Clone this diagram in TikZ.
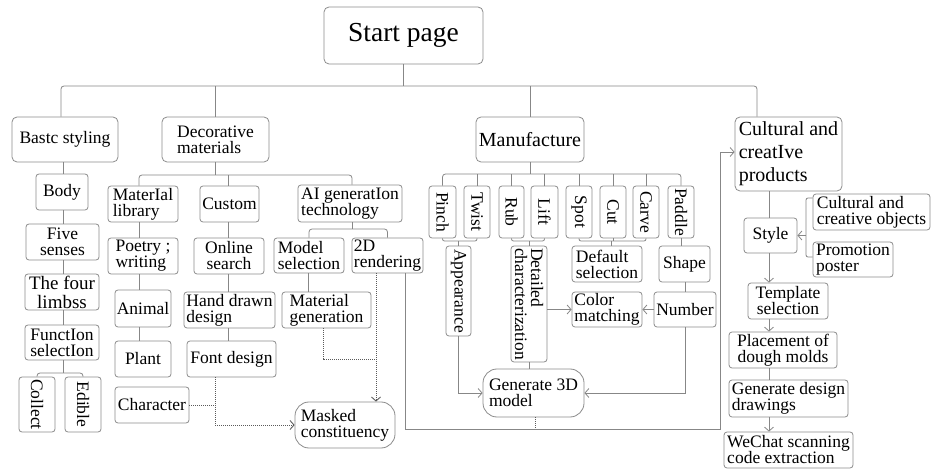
\documentclass[tikz,border=0pt]{standalone}
\usepackage{fontspec}
\setmainfont{Liberation Serif}
\usetikzlibrary{arrows.meta,calc}
\definecolor{boxc}{RGB}{140,140,140}
\definecolor{linec}{RGB}{135,135,135}
\definecolor{dotc}{RGB}{90,90,90}
\newcommand\fsN{\rmfamily\fontsize{17.5}{16}\selectfont}
\newcommand\fsL{\rmfamily\fontsize{20}{18}\selectfont}
\newcommand\fsF{\rmfamily\fontsize{19}{19}\selectfont}
\newcommand\fsC{\rmfamily\fontsize{20}{23}\selectfont}
\newcommand\fsS{\rmfamily\fontsize{27.5}{30}\selectfont}
\begin{document}
\begin{tikzpicture}[x=1pt,y=-1pt,
  box/.style={draw=boxc, rounded corners=3pt, line width=0.8pt, inner sep=1pt, font=\fsN, align=center},
  lbox/.style={box, align=left},
  vbox/.style={box, rotate=-90},
  rbox/.style={box, align=left, rounded corners=14pt},
  ln/.style={draw=linec, line width=0.8pt},
  dl/.style={draw=dotc, line width=0.9pt, dash pattern=on 1pt off 1pt},
  arr/.style={-{Straight Barb[length=4pt,width=9pt]}}]
\useasboundingbox (0,0) rectangle (932,470);
\fill[white] (0,0) rectangle (932,470);

% ---- level 0/1
\node[box, font=\fsS, rounded corners=5pt, minimum width=159, minimum height=57] (start) at (403.5,35.5) {Start page};
\node[box, rounded corners=5pt, minimum width=106, minimum height=45] (basic) at (65,139.5) {Bastc styling};
\node[lbox, rounded corners=5pt, minimum width=107, minimum height=45] (decor) at (215.5,139.5) {Decorative\\materials};
\node[box, font=\fsL, rounded corners=5pt, minimum width=108, minimum height=45] (manuf) at (530,139.5) {Manufacture};
\node[lbox, font=\fsC, rounded corners=5pt, minimum width=107, minimum height=74] (cult) at (788.5,154) {Cultural and\\creatIve\\products};

% ---- basic styling column
\node[box, minimum width=52, minimum height=36] (body) at (62,192) {Body};
\node[box, minimum width=73, minimum height=36] (five) at (62.5,242) {Five\\senses};
\node[box, font=\fsF, minimum width=74, minimum height=36] (four) at (62,292) {The four\\limbss};
\node[box, minimum width=74, minimum height=35] (func) at (62,342.5) {FunctIon\\selectIon};
\node[vbox, minimum width=55, minimum height=36] (collect) at (37,404.5) {Collect};
\node[vbox, minimum width=55, minimum height=36] (edible) at (83,404.5) {Edible};

% ---- decorative materials
\node[lbox, minimum width=70, minimum height=36] (matlib) at (143,204) {MaterIal\\library};
\node[lbox, minimum width=70, minimum height=36] (poetry) at (143,256) {Poetry ;\\writing};
\node[box, minimum width=56, minimum height=37] (animal) at (143,308.5) {Animal};
\node[box, minimum width=56, minimum height=36] (plant) at (143,359) {Plant};
\node[box, minimum width=74, minimum height=36] (char) at (152,405) {Character};
\node[box, minimum width=59, minimum height=36] (custom) at (229.5,204) {Custom};
\node[box, minimum width=70, minimum height=36] (online) at (229,256) {Online\\search};
\node[lbox, minimum width=91, minimum height=36] (hand) at (229.5,310) {Hand drawn\\design};
\node[box, minimum width=89, minimum height=36] (font) at (231.5,359) {Font design};
\node[lbox, minimum width=104, minimum height=37] (aigen) at (350,203.5) {AI generatIon\\technology};
\node[lbox, minimum width=70, minimum height=35] (model) at (309,255.5) {Model\\selection};
\node[lbox, minimum width=71, minimum height=35] (render) at (387.5,255.5) {2D\\rendering};
\node[lbox, minimum width=89, minimum height=36] (matgen) at (326.5,310) {Material\\generation};
\node[rbox, minimum width=100, minimum height=46] (masked) at (345,425) {Masked\\constituency};

% ---- manufacture
\node[vbox, minimum width=52, minimum height=27] (pinch) at (442.5,212) {Pinch};
\node[vbox, minimum width=52, minimum height=26] (twist) at (477,212) {Twist};
\node[vbox, minimum width=52, minimum height=25] (rub) at (511.5,212) {Rub};
\node[vbox, minimum width=52, minimum height=27] (lift) at (544.5,212) {Lift};
\node[vbox, minimum width=52, minimum height=26] (spot) at (579,212) {Spot};
\node[vbox, minimum width=52, minimum height=26] (cut) at (613,212) {Cut};
\node[vbox, minimum width=52, minimum height=26] (carve) at (646,212) {Carve};
\node[vbox, minimum width=52, minimum height=26] (paddle) at (681,212) {Paddle};
\node[vbox, minimum width=90, minimum height=25] (appear) at (458.5,291) {Appearance};
\node[vbox, align=left, minimum width=116, minimum height=36] (detail) at (529,304) {Detailed\\characterization};
\node[lbox, minimum width=70, minimum height=36] (default) at (607,264) {Default\\selection};
\node[lbox, minimum width=70, minimum height=35] (color) at (607,309.5) {Color\\matching};
\node[box, minimum width=51, minimum height=36] (shape) at (684.5,264) {Shape};
\node[box, minimum width=62, minimum height=35] (number) at (685,309.5) {Number};
\node[rbox, minimum width=101, minimum height=48] (gen3d) at (533.5,393) {Generate 3D\\model};

% ---- cultural
\node[box, minimum width=53, minimum height=35] (style) at (770.5,235.5) {Style};
\node[lbox, minimum width=117, minimum height=36] (objects) at (871.5,212) {Cultural and\\creative objects};
\node[lbox, minimum width=80, minimum height=35] (poster) at (853,259.5) {Promotion\\poster};
\node[box, minimum width=80, minimum height=36] (template) at (788,301) {Template\\selection};
\node[box, minimum width=108, minimum height=36] (place) at (783,350) {Placement of\\dough molds};
\node[lbox, minimum width=119, minimum height=37] (design) at (788.5,398.5) {Generate design\\drawings};
\node[lbox, minimum width=129, minimum height=36] (wechat) at (788.5,450) {WeChat scanning\\code extraction};

% ---- helper coordinates
\coordinate (tb) at (0,86);
\coordinate (xb) at (61,0);
\coordinate (xc) at (757,0);
\coordinate (xbs) at (63,0);
\coordinate (cb) at (0,373);
\coordinate (db) at (0,175);
\coordinate (xm) at (139,0);
\coordinate (xcu) at (228,0);
\coordinate (xai) at (352,0);
\coordinate (ab) at (0,229);
\coordinate (xmg) at (308,0);
\coordinate (dm) at (0,359);
\coordinate (x323) at (323,0);
\coordinate (x376) at (376,0);
\coordinate (x215) at (215,0);
\coordinate (x405) at (405,0);
\coordinate (by) at (0,429);
\coordinate (x720) at (720,0);
\coordinate (ay) at (0,152);
\coordinate (x535) at (535,0);
\coordinate (mb) at (0,174);
\coordinate (sb) at (0,241);
\coordinate (x611) at (611,0);
\coordinate (x769) at (769,0);
\coordinate (x806) at (806,0);
\coordinate (y198) at (0,198);
\coordinate (y257) at (0,257);

% ---- top bus
\draw[ln] (start.south) -- (start.south |- tb);
\draw[ln, rounded corners=3pt] (basic.north -| xb) -- (xb |- tb) -- (xc |- tb) -- (cult.north -| xc);
\draw[ln] (decor.north) -- (decor.north |- tb);
\draw[ln] (manuf.north) -- (manuf.north |- tb);

% ---- basic styling
\draw[ln] (basic.south -| xbs) -- (body.north -| xbs);
\draw[ln] (body.south -| xbs) -- (five.north -| xbs);
\draw[ln] (five.south -| xbs) -- (four.north -| xbs);
\draw[ln] (four.south -| xbs) -- (func.north -| xbs);
\draw[ln] (func.south -| xbs) -- (xbs |- cb);
\draw[ln, rounded corners=3pt] (collect.west) -- (collect.west |- cb) -- (edible.west |- cb) -- (edible.west);

% ---- decorative
\draw[ln] (decor.south) -- (decor.south |- db);
\draw[ln, rounded corners=3pt] (matlib.north -| xm) -- (xm |- db) -- (xai |- db) -- (aigen.north -| xai);
\draw[ln] (custom.north -| xcu) -- (xcu |- db);
\draw[ln] (matlib.south -| xm) -- (poetry.north -| xm);
\draw[ln] (poetry.south -| xm) -- (animal.north -| xm);
\draw[ln] (animal.south -| xm) -- (plant.north -| xm);
\draw[ln] (custom.south -| xcu) -- (online.north -| xcu);
\draw[ln] (online.south -| xcu) -- (hand.north -| xcu);
\draw[ln] (hand.south -| xcu) -- (font.north -| xcu);
\draw[ln] (aigen.south -| xai) -- (xai |- ab);
\draw[ln, rounded corners=3pt] (model.north) -- (model.north |- ab) -- (render.north |- ab) -- (render.north);
\draw[ln] (model.south -| xmg) -- (matgen.north -| xmg);
\draw[dl] (matgen.south -| x323) -- (x323 |- dm) -- (x376 |- dm);
\draw[dl, arr] (render.south -| x376) -- (masked.north -| x376);
\draw[dl, arr] (font.south -| x215) |- (masked.west);
\draw[dl] (char.east) -- (char.east -| x215);
\draw[ln, arr] (render.south -| x405) -- (x405 |- by) -- (x720 |- by) -- (x720 |- ay) -- (cult.west |- ay);

% ---- manufacture
\draw[ln] (manuf.south) -- (manuf.south |- mb);
\draw[ln, rounded corners=3pt] (pinch.west) -- (pinch.west |- mb) -- (paddle.west |- mb) -- (paddle.west);
\foreach \n in {twist,rub,lift,spot,cut,carve} \draw[ln] (\n.west) -- (\n.west |- mb);
\draw[ln, rounded corners=2pt] (pinch.east) -- (pinch.east |- sb) -- (twist.east |- sb) -- (twist.east);
\draw[ln] (appear.west) -- (appear.west |- sb);
\draw[ln, rounded corners=2pt] (rub.east) -- (rub.east |- sb) -- (lift.east |- sb) -- (lift.east);
\draw[ln] (detail.west) -- (detail.west |- sb);
\draw[ln, rounded corners=2pt] (spot.east) -- (spot.east |- sb) -- (carve.east |- sb) -- (carve.east);
\draw[ln] (cut.east) -- (cut.east |- sb);
\draw[ln] (default.north -| x611) -- (x611 |- sb);
\draw[ln] (paddle.east) -- (paddle.east |- shape.north);
\draw[ln] (number.north |- shape.south) -- (number.north);
\draw[ln, arr] (number.west) -- (color.east);
\draw[ln, arr] (detail.north |- color.west) -- (color.west);
\draw[ln, arr] (appear.east) |- (gen3d.west);
\draw[ln] (detail.east) -- (detail.east |- gen3d.north);
\draw[ln, arr] (number.south) |- (gen3d.east);
\draw[dl] (gen3d.south -| x535) -- (x535 |- by);

% ---- cultural
\draw[ln] (cult.south -| x769) -- (style.north -| x769);
\draw[ln, arr] (style.south -| x769) -- (template.north -| x769);
\draw[ln, arr] (template.south -| x769) -- (place.north -| x769);
\draw[ln] (place.south -| x769) -- (design.north -| x769);
\draw[ln, arr] (design.south -| x769) -- (wechat.north -| x769);
\draw[ln, rounded corners=2pt] (objects.west |- y198) -- (x806 |- y198) -- (x806 |- y257) -- (poster.west |- y257);
\draw[ln, arr] (x806 |- style.east) -- (style.east);
\end{tikzpicture}
\end{document}
